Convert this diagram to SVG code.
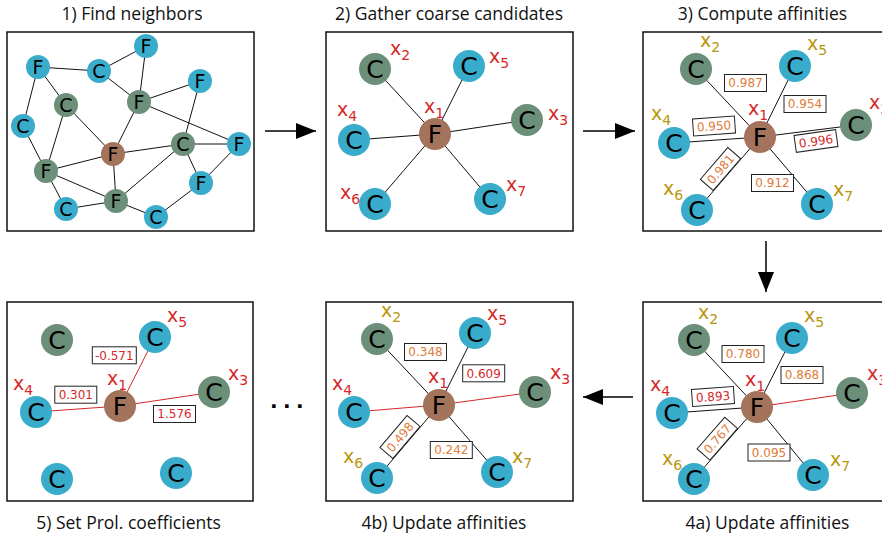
<svg xmlns="http://www.w3.org/2000/svg" width="882" height="541" viewBox="0 0 882 541">
  <style>
    .frame { fill: #fff; stroke: #111; stroke-width: 1.5; }
    .title { font-family: "Open Sans", "Liberation Sans", sans-serif; font-size: 17.5px; fill: #111; text-anchor: middle; }
    .nb { fill: #3aaccb; }
    .ng { fill: #6b8f79; }
    .nf { fill: #a4735b; }
    .lt { font-family: "DejaVu Sans", sans-serif; font-size: 25px; fill: #000; text-anchor: middle; }
    .lt1 { font-family: "DejaVu Sans", sans-serif; font-size: 19px; fill: #000; text-anchor: middle; }
    .e { stroke: #111; stroke-width: 1; fill: none; }
    .er { stroke: #d62728; stroke-width: 1; fill: none; }
    .xl { font-family: "DejaVu Sans", sans-serif; font-size: 19px; }
    .xr { fill: #d62728; }
    .xo { fill: #b8960b; }
    .vb { fill: #fff; stroke: #222; stroke-width: 1; }
    .vt { font-family: "DejaVu Sans", sans-serif; font-size: 12px; text-anchor: middle; }
    .vo { fill: #e07b39; }
    .vr { fill: #d62728; }
    .arr { stroke: #000; stroke-width: 1.5; fill: none; marker-end: url(#head); }
    .dots { font-family: "DejaVu Sans", sans-serif; font-weight: bold; font-size: 20px; fill: #000; letter-spacing: 5.4px; }
  </style>
  <defs>
    <marker id="head" markerUnits="userSpaceOnUse" markerWidth="22" markerHeight="18" refX="20" refY="8" orient="auto">
      <path d="M0,0 L20,8 L0,16 z" fill="#000"/>
    </marker>
  </defs>

  <!-- panel frames -->
  <g id="frames">
    <rect class="frame" x="7" y="32" width="247" height="199"/>
    <rect class="frame" x="326" y="32" width="247" height="199"/>
    <rect class="frame" x="643" y="32" width="250" height="199"/>
    <rect class="frame" x="7" y="302" width="246" height="199"/>
    <rect class="frame" x="326" y="302" width="247" height="199"/>
    <rect class="frame" x="643" y="302" width="250" height="199"/>
  </g>

  <!-- titles -->
  <g id="titles">
    <text class="title" x="132" y="19.5">1) Find neighbors</text>
    <text class="title" x="449" y="19.5">2) Gather coarse candidates</text>
    <text class="title" x="762.5" y="19.5">3) Compute affinities</text>
    <text class="title" x="767.5" y="529">4a) Update affinities</text>
    <text class="title" x="444" y="529">4b) Update affinities</text>
    <text class="title" x="128.5" y="529">5) Set Prol. coefficients</text>
  </g>

  <!-- step arrows -->
  <g id="arrows">
    <line class="arr" x1="265" y1="131" x2="316" y2="131"/>
    <line class="arr" x1="583" y1="131" x2="635" y2="131"/>
    <line class="arr" x1="766" y1="241" x2="766" y2="292"/>
    <line class="arr" x1="633" y1="397" x2="583" y2="397"/>
  </g>
  <text class="dots" x="270" y="408">...</text>

  <!-- ===== panel 1: neighbourhood graph ===== -->
  <g id="p1-edges">
    <line class="e" x1="38" y1="67" x2="99" y2="71"/>
    <line class="e" x1="99" y1="71" x2="146" y2="46"/>
    <line class="e" x1="99" y1="71" x2="139" y2="102"/>
    <line class="e" x1="146" y1="46" x2="139" y2="102"/>
    <line class="e" x1="139" y1="102" x2="200" y2="81"/>
    <line class="e" x1="139" y1="102" x2="239" y2="144"/>
    <line class="e" x1="139" y1="102" x2="113" y2="154"/>
    <line class="e" x1="38" y1="67" x2="66" y2="105"/>
    <line class="e" x1="38" y1="67" x2="23" y2="126"/>
    <line class="e" x1="66" y1="105" x2="113" y2="154"/>
    <line class="e" x1="66" y1="105" x2="46" y2="171"/>
    <line class="e" x1="23" y1="126" x2="46" y2="171"/>
    <line class="e" x1="113" y1="154" x2="46" y2="171"/>
    <line class="e" x1="113" y1="154" x2="183" y2="144"/>
    <line class="e" x1="113" y1="154" x2="116" y2="201"/>
    <line class="e" x1="183" y1="144" x2="200" y2="81"/>
    <line class="e" x1="183" y1="144" x2="239" y2="144"/>
    <line class="e" x1="183" y1="144" x2="201" y2="183"/>
    <line class="e" x1="183" y1="144" x2="116" y2="201"/>
    <line class="e" x1="239" y1="144" x2="201" y2="183"/>
    <line class="e" x1="46" y1="171" x2="66" y2="209"/>
    <line class="e" x1="46" y1="171" x2="116" y2="201"/>
    <line class="e" x1="66" y1="209" x2="116" y2="201"/>
    <line class="e" x1="116" y1="201" x2="156" y2="217"/>
    <line class="e" x1="156" y1="217" x2="201" y2="183"/>
  </g>
  <g id="p1-n1"><circle class="nb" cx="146" cy="46" r="12"/><text class="lt1" x="146" y="53">F</text></g>
  <g id="p1-n2"><circle class="nb" cx="38" cy="67" r="12"/><text class="lt1" x="38" y="74">F</text></g>
  <g id="p1-n3"><circle class="nb" cx="99" cy="71" r="12"/><text class="lt1" x="99" y="78">C</text></g>
  <g id="p1-n4"><circle class="nb" cx="200" cy="81" r="12"/><text class="lt1" x="200" y="88">F</text></g>
  <g id="p1-n5"><circle class="ng" cx="66" cy="105" r="12"/><text class="lt1" x="66" y="112">C</text></g>
  <g id="p1-n6"><circle class="ng" cx="139" cy="102" r="12"/><text class="lt1" x="139" y="109">F</text></g>
  <g id="p1-n7"><circle class="nb" cx="23" cy="126" r="12"/><text class="lt1" x="23" y="133">C</text></g>
  <g id="p1-n8"><circle class="ng" cx="183" cy="144" r="12"/><text class="lt1" x="183" y="151">C</text></g>
  <g id="p1-n9"><circle class="nb" cx="239" cy="144" r="12"/><text class="lt1" x="239" y="151">F</text></g>
  <g id="p1-n10"><circle class="nf" cx="113" cy="154" r="12"/><text class="lt1" x="113" y="161">F</text></g>
  <g id="p1-n11"><circle class="ng" cx="46" cy="171" r="12"/><text class="lt1" x="46" y="178">F</text></g>
  <g id="p1-n12"><circle class="nb" cx="201" cy="183" r="12"/><text class="lt1" x="201" y="190">F</text></g>
  <g id="p1-n13"><circle class="nb" cx="66" cy="209" r="12"/><text class="lt1" x="66" y="216">C</text></g>
  <g id="p1-n14"><circle class="ng" cx="116" cy="201" r="12"/><text class="lt1" x="116" y="208">F</text></g>
  <g id="p1-n15"><circle class="nb" cx="156" cy="217" r="12"/><text class="lt1" x="156" y="224">C</text></g>

  <!-- ===== panel 2: coarse candidates ===== -->
  <g id="p2-edges">
    <line class="e" x1="435" y1="134" x2="375" y2="69"/>
    <line class="e" x1="435" y1="134" x2="469" y2="66"/>
    <line class="e" x1="435" y1="134" x2="527" y2="120"/>
    <line class="e" x1="435" y1="134" x2="354" y2="140"/>
    <line class="e" x1="435" y1="134" x2="375" y2="204"/>
    <line class="e" x1="435" y1="134" x2="490" y2="199"/>
  </g>
  <g id="p2-x2"><circle class="ng" cx="375" cy="69" r="16"/><text class="lt" x="375" y="78">C</text></g>
  <g id="p2-x5"><circle class="nb" cx="469" cy="66" r="16"/><text class="lt" x="469" y="75">C</text></g>
  <g id="p2-x3"><circle class="ng" cx="527" cy="120" r="16"/><text class="lt" x="527" y="129">C</text></g>
  <g id="p2-x1"><circle class="nf" cx="435" cy="134" r="16"/><text class="lt" x="435" y="143">F</text></g>
  <g id="p2-x4"><circle class="nb" cx="354" cy="140" r="16"/><text class="lt" x="354" y="149">C</text></g>
  <g id="p2-x6"><circle class="nb" cx="375" cy="204" r="16"/><text class="lt" x="375" y="213">C</text></g>
  <g id="p2-x7"><circle class="nb" cx="490" cy="199" r="16"/><text class="lt" x="490" y="208">C</text></g>
  <g id="p2-labels" class="xl">
    <text class="xr" x="390" y="55">x<tspan dy="5" font-size="14">2</tspan></text>
    <text class="xr" x="489" y="63">x<tspan dy="5" font-size="14">5</tspan></text>
    <text class="xr" x="548" y="120">x<tspan dy="5" font-size="14">3</tspan></text>
    <text class="xr" x="424" y="113">x<tspan dy="5" font-size="14">1</tspan></text>
    <text class="xr" x="337" y="116">x<tspan dy="5" font-size="14">4</tspan></text>
    <text class="xr" x="340" y="199">x<tspan dy="5" font-size="14">6</tspan></text>
    <text class="xr" x="506" y="191">x<tspan dy="5" font-size="14">7</tspan></text>
  </g>

  <!-- ===== panel 3: affinities ===== -->
  <g id="p3-edges">
    <line class="e" x1="760" y1="137" x2="696" y2="69"/>
    <line class="e" x1="760" y1="137" x2="795" y2="66"/>
    <line class="e" x1="760" y1="137" x2="856" y2="125"/>
    <line class="e" x1="760" y1="137" x2="674" y2="143"/>
    <line class="e" x1="760" y1="137" x2="697" y2="210"/>
    <line class="e" x1="760" y1="137" x2="817" y2="204"/>
  </g>
  <g id="p3-x2"><circle class="ng" cx="696" cy="69" r="16"/><text class="lt" x="696" y="78">C</text></g>
  <g id="p3-x5"><circle class="nb" cx="795" cy="66" r="16"/><text class="lt" x="795" y="75">C</text></g>
  <g id="p3-x3"><circle class="ng" cx="856" cy="125" r="16"/><text class="lt" x="856" y="134">C</text></g>
  <g id="p3-x1"><circle class="nf" cx="760" cy="137" r="16"/><text class="lt" x="760" y="146">F</text></g>
  <g id="p3-x4"><circle class="nb" cx="674" cy="143" r="16"/><text class="lt" x="674" y="152">C</text></g>
  <g id="p3-x6"><circle class="nb" cx="697" cy="210" r="16"/><text class="lt" x="697" y="219">C</text></g>
  <g id="p3-x7"><circle class="nb" cx="817" cy="204" r="16"/><text class="lt" x="817" y="213">C</text></g>
  <g id="p3-values" class="vt">
    <g transform="translate(745.5,83)"><rect class="vb" x="-21" y="-8.5" width="42" height="17"/><text class="vo" y="4.4">0.987</text></g>
    <g transform="translate(805,104)"><rect class="vb" x="-21" y="-8.5" width="42" height="17"/><text class="vo" y="4.4">0.954</text></g>
    <g transform="translate(714,126) rotate(-4)"><rect class="vb" x="-21" y="-8.5" width="42" height="17"/><text class="vo" y="4.4">0.950</text></g>
    <g transform="translate(816,141) rotate(-8)"><rect class="vb" x="-21" y="-8.5" width="42" height="17"/><text class="vr" y="4.4">0.996</text></g>
    <g transform="translate(720.5,169) rotate(-49.2)"><rect class="vb" x="-21" y="-8.5" width="42" height="17"/><text class="vo" y="4.4">0.981</text></g>
    <g transform="translate(772.5,183)"><rect class="vb" x="-21" y="-8.5" width="42" height="17"/><text class="vo" y="4.4">0.912</text></g>
  </g>
  <g id="p3-labels" class="xl">
    <text class="xo" x="700" y="47">x<tspan dy="5" font-size="14">2</tspan></text>
    <text class="xo" x="807" y="50">x<tspan dy="5" font-size="14">5</tspan></text>
    <text class="xr" x="869" y="109">x<tspan dy="5" font-size="14">3</tspan></text>
    <text class="xr" x="748" y="115">x<tspan dy="5" font-size="14">1</tspan></text>
    <text class="xo" x="651" y="120">x<tspan dy="5" font-size="14">4</tspan></text>
    <text class="xo" x="663" y="195">x<tspan dy="5" font-size="14">6</tspan></text>
    <text class="xo" x="833" y="196">x<tspan dy="5" font-size="14">7</tspan></text>
  </g>

  <!-- ===== panel 4a ===== -->
  <g id="p4a-edges">
    <line class="e" x1="757" y1="407" x2="694" y2="340"/>
    <line class="e" x1="757" y1="407" x2="792" y2="338"/>
    <line class="er" x1="757" y1="407" x2="852" y2="393"/>
    <line class="e" x1="757" y1="407" x2="672" y2="413"/>
    <line class="e" x1="757" y1="407" x2="694" y2="479"/>
    <line class="e" x1="757" y1="407" x2="813" y2="475"/>
  </g>
  <g id="p4a-x2"><circle class="ng" cx="694" cy="340" r="16"/><text class="lt" x="694" y="349">C</text></g>
  <g id="p4a-x5"><circle class="nb" cx="792" cy="338" r="16"/><text class="lt" x="792" y="347">C</text></g>
  <g id="p4a-x3"><circle class="ng" cx="852" cy="393" r="16"/><text class="lt" x="852" y="402">C</text></g>
  <g id="p4a-x1"><circle class="nf" cx="757" cy="407" r="16"/><text class="lt" x="757" y="416">F</text></g>
  <g id="p4a-x4"><circle class="nb" cx="672" cy="413" r="16"/><text class="lt" x="672" y="422">C</text></g>
  <g id="p4a-x6"><circle class="nb" cx="694" cy="479" r="16"/><text class="lt" x="694" y="488">C</text></g>
  <g id="p4a-x7"><circle class="nb" cx="813" cy="475" r="16"/><text class="lt" x="813" y="484">C</text></g>
  <g id="p4a-values" class="vt">
    <g transform="translate(743,354)"><rect class="vb" x="-21" y="-8.5" width="42" height="17"/><text class="vo" y="4.4">0.780</text></g>
    <g transform="translate(802,375)"><rect class="vb" x="-21" y="-8.5" width="42" height="17"/><text class="vo" y="4.4">0.868</text></g>
    <g transform="translate(713,396.5) rotate(-4)"><rect class="vb" x="-21" y="-8.5" width="42" height="17"/><text class="vr" y="4.4">0.893</text></g>
    <g transform="translate(717.3,438.7) rotate(-48.8)"><rect class="vb" x="-21" y="-8.5" width="42" height="17"/><text class="vo" y="4.4">0.767</text></g>
    <g transform="translate(769,452.5)"><rect class="vb" x="-21" y="-8.5" width="42" height="17"/><text class="vo" y="4.4">0.095</text></g>
  </g>
  <g id="p4a-labels" class="xl">
    <text class="xo" x="698" y="319">x<tspan dy="5" font-size="14">2</tspan></text>
    <text class="xo" x="804" y="322">x<tspan dy="5" font-size="14">5</tspan></text>
    <text class="xr" x="867" y="380">x<tspan dy="5" font-size="14">3</tspan></text>
    <text class="xr" x="745" y="386">x<tspan dy="5" font-size="14">1</tspan></text>
    <text class="xr" x="650" y="391">x<tspan dy="5" font-size="14">4</tspan></text>
    <text class="xo" x="662" y="465">x<tspan dy="5" font-size="14">6</tspan></text>
    <text class="xo" x="830" y="466">x<tspan dy="5" font-size="14">7</tspan></text>
  </g>

  <!-- ===== panel 4b ===== -->
  <g id="p4b-edges">
    <line class="e" x1="439" y1="405" x2="377" y2="339"/>
    <line class="e" x1="439" y1="405" x2="475" y2="333"/>
    <line class="er" x1="439" y1="405" x2="535" y2="392"/>
    <line class="er" x1="439" y1="405" x2="354" y2="412"/>
    <line class="e" x1="439" y1="405" x2="377" y2="478"/>
    <line class="e" x1="439" y1="405" x2="497" y2="472"/>
  </g>
  <g id="p4b-x2"><circle class="ng" cx="377" cy="339" r="16"/><text class="lt" x="377" y="348">C</text></g>
  <g id="p4b-x5"><circle class="nb" cx="475" cy="333" r="16"/><text class="lt" x="475" y="342">C</text></g>
  <g id="p4b-x3"><circle class="ng" cx="535" cy="392" r="16"/><text class="lt" x="535" y="401">C</text></g>
  <g id="p4b-x1"><circle class="nf" cx="439" cy="405" r="16"/><text class="lt" x="439" y="414">F</text></g>
  <g id="p4b-x4"><circle class="nb" cx="354" cy="412" r="16"/><text class="lt" x="354" y="421">C</text></g>
  <g id="p4b-x6"><circle class="nb" cx="377" cy="478" r="16"/><text class="lt" x="377" y="487">C</text></g>
  <g id="p4b-x7"><circle class="nb" cx="497" cy="472" r="16"/><text class="lt" x="497" y="481">C</text></g>
  <g id="p4b-values" class="vt">
    <g transform="translate(425.5,352)"><rect class="vb" x="-21" y="-8.5" width="42" height="17"/><text class="vo" y="4.4">0.348</text></g>
    <g transform="translate(483.7,373.3)"><rect class="vb" x="-21" y="-8.5" width="42" height="17"/><text class="vr" y="4.4">0.609</text></g>
    <g transform="translate(400,437) rotate(-49.7)"><rect class="vb" x="-21" y="-8.5" width="42" height="17"/><text class="vo" y="4.4">0.498</text></g>
    <g transform="translate(451.3,450)"><rect class="vb" x="-21" y="-8.5" width="42" height="17"/><text class="vo" y="4.4">0.242</text></g>
  </g>
  <g id="p4b-labels" class="xl">
    <text class="xo" x="381" y="317">x<tspan dy="5" font-size="14">2</tspan></text>
    <text class="xr" x="487" y="320">x<tspan dy="5" font-size="14">5</tspan></text>
    <text class="xr" x="550" y="379">x<tspan dy="5" font-size="14">3</tspan></text>
    <text class="xr" x="428" y="383">x<tspan dy="5" font-size="14">1</tspan></text>
    <text class="xr" x="332" y="390">x<tspan dy="5" font-size="14">4</tspan></text>
    <text class="xo" x="343" y="463">x<tspan dy="5" font-size="14">6</tspan></text>
    <text class="xo" x="512" y="463">x<tspan dy="5" font-size="14">7</tspan></text>
  </g>

  <!-- ===== panel 5: prolongation weights ===== -->
  <g id="p5-edges">
    <line class="er" x1="120" y1="406" x2="155" y2="337"/>
    <line class="er" x1="120" y1="406" x2="214" y2="392"/>
    <line class="er" x1="120" y1="406" x2="36" y2="412"/>
  </g>
  <g id="p5-c2"><circle class="ng" cx="57" cy="340" r="16"/><text class="lt" x="57" y="349">C</text></g>
  <g id="p5-x5"><circle class="nb" cx="155" cy="337" r="16"/><text class="lt" x="155" y="346">C</text></g>
  <g id="p5-x3"><circle class="ng" cx="214" cy="392" r="16"/><text class="lt" x="214" y="401">C</text></g>
  <g id="p5-x1"><circle class="nf" cx="120" cy="406" r="16"/><text class="lt" x="120" y="415">F</text></g>
  <g id="p5-x4"><circle class="nb" cx="36" cy="412" r="16"/><text class="lt" x="36" y="421">C</text></g>
  <g id="p5-c6"><circle class="nb" cx="57" cy="479" r="16"/><text class="lt" x="57" y="488">C</text></g>
  <g id="p5-c7"><circle class="nb" cx="176" cy="473" r="16"/><text class="lt" x="176" y="482">C</text></g>
  <g id="p5-values" class="vt">
    <g transform="translate(114.3,355.3)"><rect class="vb" x="-22" y="-8.5" width="44" height="17"/><text class="vr" y="4.4">-0.571</text></g>
    <g transform="translate(75.8,394.7)"><rect class="vb" x="-21" y="-8.5" width="42" height="17"/><text class="vr" y="4.4">0.301</text></g>
    <g transform="translate(174.5,414)"><rect class="vb" x="-21" y="-8.5" width="42" height="17"/><text class="vr" y="4.4">1.576</text></g>
  </g>
  <g id="p5-labels" class="xl">
    <text class="xr" x="167" y="322">x<tspan dy="5" font-size="14">5</tspan></text>
    <text class="xr" x="228" y="380">x<tspan dy="5" font-size="14">3</tspan></text>
    <text class="xr" x="107" y="385">x<tspan dy="5" font-size="14">1</tspan></text>
    <text class="xr" x="13" y="390">x<tspan dy="5" font-size="14">4</tspan></text>
  </g>
</svg>
